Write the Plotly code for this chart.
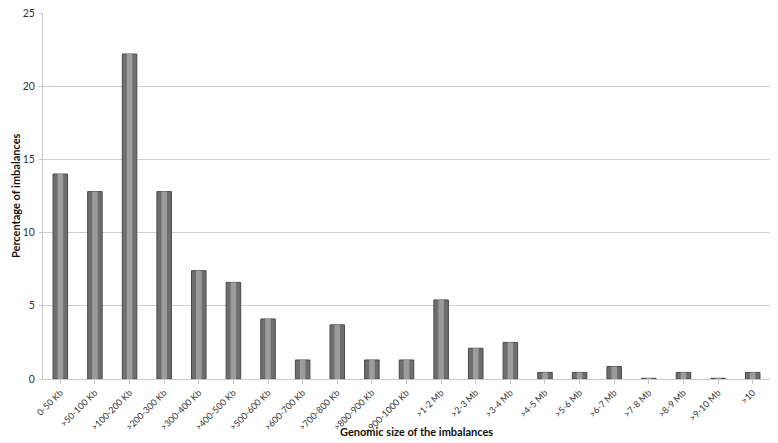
import plotly.graph_objects as go

categories = ["0-50 Kb", ">50-100 Kb", ">100-200 Kb", ">200-300 Kb", ">300-400 Kb",
              ">400-500 Kb", ">500-600 Kb", ">600-700 Kb", ">700-800 Kb", ">800-900 Kb",
              ">900-1000 Kb", ">1-2 Mb", ">2-3 Mb", ">3-4 Mb", ">4-5 Mb", ">5-6 Mb",
              ">6-7 Mb", ">7-8 Mb", ">8-9 Mb", ">9-10 Mb", ">10"]
percentages = [14.0, 12.8, 22.2, 12.8, 7.4, 6.6, 4.1, 1.3, 3.7, 1.3, 1.3,
               5.4, 2.1, 2.5, 0.45, 0.45, 0.85, 0.05, 0.45, 0.05, 0.45]
y_ticks = [0, 5, 10, 15, 20, 25]

fig = go.Figure()
# cylinder-like look: dark outer bar plus a lighter band in the middle
fig.add_trace(go.Bar(
    x=categories, y=percentages, width=0.42,
    marker=dict(color="#6e6e6e", line=dict(color="#4a4a4a", width=1)),
))
fig.add_trace(go.Bar(
    x=categories, y=percentages, width=0.16,
    marker=dict(color="#9c9c9c", line=dict(width=0)),
))

title_font = dict(family="Lato", size=11, color="#111111")
fig.add_annotation(text="<b>Genomic size of the imbalances</b>", xref="paper", yref="paper",
                   x=0.514, y=-0.143, xanchor="center", yanchor="middle",
                   showarrow=False, font=title_font)
fig.add_annotation(text="<b>Percentage of imbalances</b>", xref="paper", yref="paper",
                   x=-0.0385, y=0.5, xanchor="center", yanchor="middle", textangle=-90,
                   showarrow=False, font=title_font)

fig.update_layout(
    width=778, height=443,
    margin=dict(l=35, r=16, t=5, b=72),
    paper_bgcolor="white", plot_bgcolor="white",
    font=dict(family="Lato", color="#333333"),
    showlegend=False, barmode="overlay",
    xaxis=dict(
        tickangle=-45, tickfont=dict(size=9), showgrid=False, automargin=False,
        showline=True, linecolor="#c8c8c8", ticks="outside", ticklen=4,
        tickcolor="#c8c8c8",
    ),
    yaxis=dict(
        range=[0, 25], tickvals=y_ticks, tickfont=dict(size=10.5), automargin=False,
        showgrid=True, gridcolor="#cfcfcf", gridwidth=1,
        showline=True, linecolor="#c8c8c8", ticks="outside", ticklen=3,
        tickcolor="#c8c8c8", zeroline=False, ticklabelstandoff=2,
        ticklabeloverflow="allow",
    ),
)

fig.write_html("out.html")
